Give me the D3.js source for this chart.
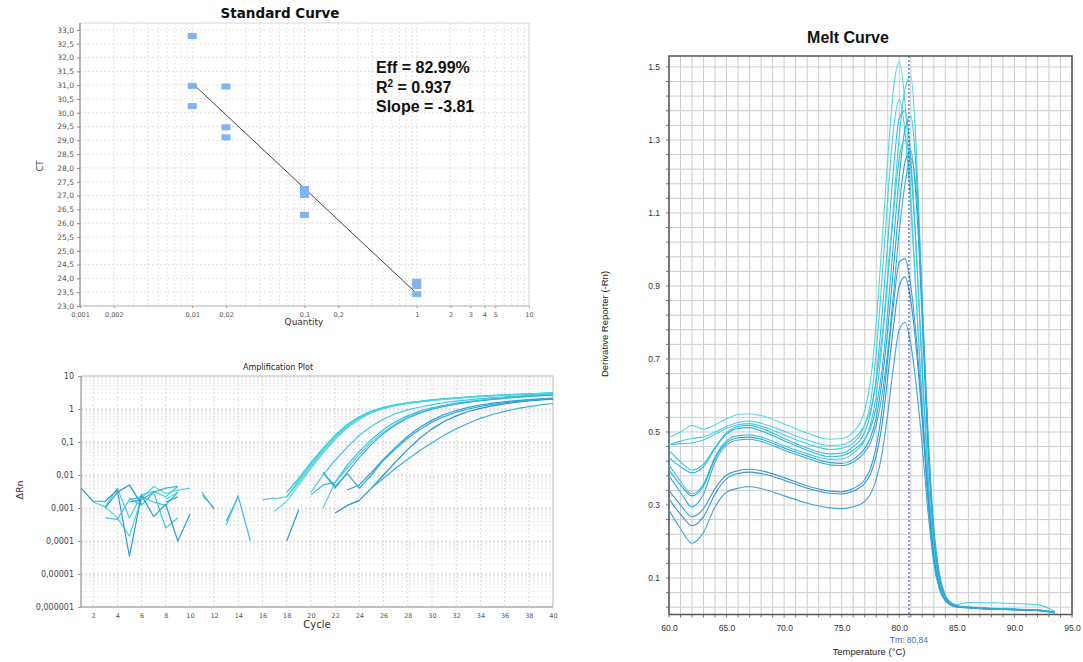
<!DOCTYPE html>
<html>
<head>
<meta charset="utf-8">
<script src="https://cdnjs.cloudflare.com/ajax/libs/d3/7.8.5/d3.min.js"></script>
<style>
  body { margin: 0; background: #fff; }
  svg { display: block; }
</style>
</head>
<body>
<svg id="fig" width="1083" height="662"></svg>
<script>
// ---------------- Standard curve data ----------------
const stdQuantity = [0.01, 0.01, 0.01, 0.02, 0.02, 0.02, 0.1, 0.1, 0.1, 1, 1, 1];
const stdCt       = [32.78, 30.97, 30.24, 30.95, 29.47, 29.11, 27.24, 27.02, 26.30, 23.88, 23.72, 23.43];
const stdSlope = -3.81;
const stdIntercept = 23.45;
const stdFitRange = [0.01, 1];
const stdXTicks = [0.001, 0.002, 0.01, 0.02, 0.1, 0.2, 1, 2, 3, 4, 5, 10];
const stdXLabels = ["0,001", "0,002", "0,01", "0,02", "0,1", "0,2", "1", "2", "3", "4", "5", "10"];
const stdYTicks = [23, 23.5, 24, 24.5, 25, 25.5, 26, 26.5, 27, 27.5, 28, 28.5, 29, 29.5, 30, 30.5, 31, 31.5, 32, 32.5, 33];
const stdEff = "82.99%";
const stdR2 = "0.937";

// ---------------- Amplification plot data (ΔRn per cycle, null = below zero) ----------------
const ampCycles = d3.range(1, 41);
const ampSeries = [
  { color: "#3fd2d8", values: [null,1.5e-3,1.1e-3,4e-3,5e-4,2.5e-3,3.2e-3,2.2e-3,4.5e-3,null,null,null,null,null,null,null,null,2.2e-3,7e-3,0.021,0.058,0.15,0.32,0.56,0.84,1.1,1.33,1.53,1.71,1.87,2.02,2.17,2.31,2.44,2.56,2.67,2.78,2.88,2.97,3.06] },
  { color: "#48d8de", values: [null,null,1.1e-3,5e-4,1.4e-4,2e-3,4.5e-3,2.8e-3,3.5e-3,4e-3,null,null,null,null,null,null,1.9e-3,2.2e-3,6e-3,0.018,0.05,0.13,0.29,0.52,0.8,1.06,1.29,1.49,1.67,1.83,1.98,2.13,2.27,2.4,2.52,2.63,2.74,2.84,2.93,3.02] },
  { color: "#34c9d6", values: [null,null,null,null,2e-3,1.2e-3,3e-3,2.5e-4,5e-4,null,2.5e-3,1e-3,null,null,null,null,null,3e-3,8e-3,0.024,0.064,0.16,0.34,0.58,0.86,1.12,1.35,1.55,1.72,1.88,2.03,2.18,2.32,2.45,2.57,2.68,2.79,2.89,2.98,3.07] },
  { color: "#52dbe2", values: [null,null,null,null,null,null,null,1.8e-3,3e-3,null,null,1.2e-3,null,null,null,null,8e-4,1.6e-3,5e-3,0.016,0.046,0.12,0.27,0.49,0.77,1.03,1.26,1.46,1.64,1.8,1.96,2.11,2.25,2.38,2.5,2.62,2.73,2.83,2.92,3.01] },
  { color: "#45c6e2", values: [null,null,5e-4,4.5e-4,1.8e-3,2.2e-3,1.5e-3,1.2e-3,3e-3,null,null,null,3e-4,2.5e-3,null,null,null,null,null,3e-3,0.01,0.028,0.07,0.16,0.3,0.5,0.72,0.94,1.15,1.36,1.55,1.73,1.9,2.06,2.21,2.35,2.48,2.6,2.71,2.81] },
  { color: "#3abbe0", values: [null,null,null,null,null,null,null,null,null,null,null,null,4e-4,2.2e-3,1e-4,null,null,null,null,2.5e-3,5e-3,6e-3,0.02,0.052,0.12,0.24,0.42,0.63,0.86,1.08,1.3,1.5,1.68,1.86,2.02,2.18,2.32,2.46,2.58,2.7] },
  { color: "#4fc9e6", values: [null,null,null,null,null,null,null,null,null,null,null,null,null,null,null,1.8e-3,2e-3,null,null,null,1e-3,6e-3,0.016,0.042,0.1,0.2,0.36,0.56,0.78,1.0,1.22,1.42,1.61,1.79,1.96,2.12,2.27,2.41,2.54,2.66] },
  { color: "#38b4de", values: [null,2e-3,null,null,1.5e-3,1.8e-3,3e-3,4e-3,4.5e-3,null,null,null,null,null,null,null,null,null,null,null,0.012,4e-3,0.012,0.034,0.085,0.18,0.33,0.53,0.75,0.98,1.2,1.41,1.6,1.78,1.95,2.11,2.26,2.4,2.53,2.65] },
  { color: "#2a9fd6", values: [4e-3,1.6e-3,1.6e-3,3.5e-3,3.5e-5,2.5e-3,5.5e-4,1.3e-3,1e-4,6.5e-4,null,null,null,3.5e-3,null,null,null,1e-4,9e-4,null,null,null,3.5e-3,5e-3,0.012,0.03,0.07,0.15,0.28,0.46,0.68,0.9,1.12,1.32,1.5,1.66,1.8,1.93,2.04,2.14] },
  { color: "#2391d0", values: [null,null,1e-3,3e-3,5e-3,1.3e-3,null,1.5e-3,2.2e-3,null,null,null,null,null,null,null,null,null,null,null,null,7e-4,1.2e-3,1.7e-3,4e-3,0.01,0.025,0.06,0.13,0.25,0.42,0.62,0.84,1.05,1.25,1.43,1.6,1.75,1.88,2.0] },
  { color: "#31a9dc", values: [null,null,null,null,null,null,null,null,null,null,null,null,null,null,null,null,null,null,null,null,0.012,4.5e-3,0.011,4e-3,0.01,0.028,0.062,0.13,0.24,0.4,0.59,0.8,1.0,1.2,1.38,1.55,1.7,1.83,1.95,2.06] },
  { color: "#3eb0dc", values: [null,null,null,null,null,null,null,null,null,null,3e-3,9e-4,null,null,null,2e-3,null,null,null,null,null,null,null,null,4e-3,8e-3,0.016,0.03,0.055,0.095,0.16,0.25,0.37,0.52,0.68,0.85,1.02,1.18,1.33,1.47] }
];
const ampYTicks = [1e-6, 1e-5, 1e-4, 1e-3, 1e-2, 1e-1, 1, 10];
const ampYLabels = ["0,000001", "0,00001", "0,0001", "0,001", "0,01", "0,1", "1", "10"];
const ampXTicks = d3.range(2, 41, 2);

// ---------------- Melt curve data (derivative reporter vs temperature) ----------------
const meltTemps = [60, 61, 62, 63, 64, 65, 66, 67, 68, 70, 72, 74,
                   75, 76, 77, 77.5, 78, 78.5, 79, 79.5, 80, 80.5, 81, 81.5,
                   82, 82.5, 83, 83.5, 84, 84.5, 85, 86, 88, 90, 92, 93.5];
const meltSeries = [
  { color: "#55d8e2", values: [0.485,0.500,0.518,0.508,0.520,0.536,0.548,0.550,0.545,0.522,0.497,0.480,
                               0.482,0.500,0.560,0.640,0.800,1.020,1.250,1.440,1.515,1.400,1.150,0.850,
                               0.560,0.310,0.150,0.070,0.040,0.028,0.022,0.020,0.016,0.014,0.012,0.005] },
  { color: "#45d2e0", values: [0.465,0.475,0.482,0.487,0.500,0.515,0.526,0.530,0.524,0.502,0.478,0.463,
                               0.465,0.480,0.520,0.560,0.640,0.760,0.930,1.120,1.310,1.440,1.475,1.260,
                               0.850,0.470,0.210,0.090,0.045,0.032,0.027,0.033,0.032,0.030,0.027,0.008] },
  { color: "#4cccE4", values: [0.465,0.468,0.470,0.478,0.494,0.510,0.520,0.523,0.516,0.492,0.468,0.452,
                               0.455,0.470,0.520,0.580,0.720,0.920,1.140,1.330,1.410,1.320,1.120,0.850,
                               0.580,0.320,0.160,0.075,0.040,0.026,0.021,0.019,0.016,0.014,0.011,0.005] },
  { color: "#36c0e0", values: [0.450,0.418,0.396,0.412,0.458,0.498,0.515,0.518,0.510,0.482,0.456,0.440,
                               0.442,0.460,0.500,0.550,0.650,0.820,1.020,1.220,1.360,1.380,1.250,0.980,
                               0.660,0.370,0.170,0.080,0.042,0.027,0.021,0.019,0.015,0.013,0.011,0.005] },
  { color: "#2fb6dc", values: [0.430,0.405,0.388,0.405,0.455,0.494,0.510,0.512,0.503,0.476,0.450,0.432,
                               0.435,0.450,0.480,0.510,0.570,0.670,0.830,1.020,1.200,1.330,1.365,1.200,
                               0.840,0.470,0.220,0.100,0.050,0.030,0.023,0.020,0.016,0.014,0.012,0.006] },
  { color: "#3cc6e4", values: [0.410,0.365,0.330,0.358,0.432,0.476,0.490,0.492,0.486,0.462,0.440,0.425,
                               0.426,0.442,0.478,0.520,0.600,0.740,0.920,1.100,1.250,1.300,1.220,0.980,
                               0.680,0.380,0.180,0.085,0.044,0.028,0.022,0.019,0.015,0.013,0.011,0.005] },
  { color: "#27a6d8", values: [0.396,0.355,0.325,0.352,0.428,0.470,0.484,0.486,0.480,0.456,0.434,0.416,
                               0.414,0.425,0.455,0.485,0.540,0.640,0.780,0.950,1.120,1.240,1.270,1.120,
                               0.800,0.450,0.210,0.095,0.048,0.030,0.023,0.020,0.016,0.014,0.012,0.006] },
  { color: "#30b0de", values: [0.380,0.335,0.295,0.330,0.418,0.464,0.478,0.480,0.474,0.450,0.428,0.410,
                               0.408,0.418,0.445,0.470,0.520,0.600,0.720,0.880,1.050,1.180,1.250,1.150,
                               0.850,0.500,0.240,0.110,0.052,0.032,0.024,0.021,0.017,0.015,0.012,0.006] },
  { color: "#3a9cd6", values: [0.340,0.300,0.268,0.290,0.345,0.382,0.394,0.398,0.394,0.375,0.352,0.338,
                               0.336,0.345,0.370,0.400,0.460,0.560,0.700,0.850,0.965,0.975,0.900,0.750,
                               0.550,0.330,0.160,0.075,0.040,0.026,0.021,0.019,0.015,0.013,0.011,0.005] },
  { color: "#3596d2", values: [0.316,0.275,0.243,0.268,0.330,0.372,0.386,0.390,0.386,0.368,0.346,0.332,
                               0.330,0.338,0.360,0.385,0.435,0.520,0.650,0.790,0.900,0.925,0.860,0.720,
                               0.530,0.320,0.155,0.072,0.039,0.026,0.021,0.018,0.015,0.013,0.011,0.005] },
  { color: "#3fa2d8", values: [0.286,0.235,0.195,0.225,0.295,0.335,0.346,0.350,0.345,0.325,0.305,0.292,
                               0.290,0.295,0.310,0.330,0.370,0.440,0.550,0.680,0.780,0.800,0.740,0.620,
                               0.460,0.280,0.140,0.068,0.037,0.025,0.020,0.018,0.015,0.013,0.011,0.005] }
];
const meltTm = 80.84;
const meltXTicks = [60, 65, 70, 75, 80, 85, 90, 95];
const meltYTicks = [0.1, 0.3, 0.5, 0.7, 0.9, 1.1, 1.3, 1.5];

const fig = d3.select("#fig");
const SANS = "'DejaVu Sans', Verdana, sans-serif";
const ARIAL = "'Liberation Sans', Arial, sans-serif";

function styleAxis(g, color, fontSize, family, textColor) {
  g.selectAll(".domain").remove();
  g.selectAll(".tick line").attr("stroke", color);
  g.selectAll(".tick text").attr("font-size", fontSize).attr("font-family", family).attr("fill", textColor);
}

// =============== Standard Curve ===============
{
  const L = 80, R = 529, T = 23, B = 306;
  const x = d3.scaleLog().domain([0.001, 10]).range([L, R]);
  const y = d3.scaleLinear().domain([23, 33.25]).range([B, T]);
  const g = fig.append("g");

  // grid
  g.append("g").selectAll("line").data(x.ticks()).join("line")
    .attr("x1", d => x(d)).attr("x2", d => x(d)).attr("y1", T).attr("y2", B)
    .attr("stroke", "#dcdcdc").attr("stroke-dasharray", "2,2").attr("stroke-width", 0.8);
  g.append("g").selectAll("line").data(stdYTicks).join("line")
    .attr("x1", L).attr("x2", R).attr("y1", d => y(d)).attr("y2", d => y(d))
    .attr("stroke", "#dcdcdc").attr("stroke-dasharray", "2,2").attr("stroke-width", 0.8);

  // frame
  g.append("path").attr("d", `M${L},${T}H${R}V${B}`).attr("fill", "none").attr("stroke", "#d8d8d8").attr("stroke-width", 1);
  g.append("line").attr("x1", L).attr("x2", L).attr("y1", T).attr("y2", B).attr("stroke", "#8a8a8a").attr("stroke-width", 1.2);
  g.append("line").attr("x1", L).attr("x2", R).attr("y1", B).attr("y2", B).attr("stroke", "#b5b5b5").attr("stroke-width", 1.2);

  // axes
  const ya = g.append("g").attr("transform", `translate(${L},0)`)
    .call(d3.axisLeft(y).tickValues(stdYTicks).tickSize(3).tickPadding(3)
      .tickFormat(d => d.toFixed(1).replace(".", ",")));
  styleAxis(ya, "#888", 7.5, SANS, "#555");
  const xa = g.append("g").attr("transform", `translate(0,${B})`)
    .call(d3.axisBottom(x).tickValues(stdXTicks).tickSize(2).tickPadding(4)
      .tickFormat((d, i) => stdXLabels[i]));
  styleAxis(xa, "#999", 6.5, SANS, "#555");

  // regression line
  g.append("line")
    .attr("x1", x(stdFitRange[0])).attr("y1", y(stdIntercept + stdSlope * Math.log10(stdFitRange[0])))
    .attr("x2", x(stdFitRange[1])).attr("y2", y(stdIntercept + stdSlope * Math.log10(stdFitRange[1])))
    .attr("stroke", "#444").attr("stroke-width", 1);

  // points
  g.append("g").selectAll("rect").data(stdQuantity).join("rect")
    .attr("x", d => x(d) - 4.5).attr("y", (d, i) => y(stdCt[i]) - 3)
    .attr("width", 9).attr("height", 6).attr("fill", "#80b4ee");

  // titles
  g.append("text").attr("x", 280).attr("y", 18).attr("text-anchor", "middle")
    .attr("font-family", SANS).attr("font-weight", "bold").attr("font-size", 13.5).attr("fill", "#111")
    .text("Standard Curve");
  g.append("text").attr("transform", "translate(43,166) rotate(-90)").attr("text-anchor", "middle")
    .attr("font-family", SANS).attr("font-size", 8.5).attr("fill", "#444").text("CT");
  g.append("text").attr("x", 304).attr("y", 325).attr("text-anchor", "middle")
    .attr("font-family", SANS).attr("font-size", 9).attr("fill", "#333").text("Quantity");

  // stats
  const st = g.append("g").attr("font-family", ARIAL).attr("font-weight", "bold").attr("font-size", 16).attr("fill", "#111");
  st.append("text").attr("x", 376).attr("y", 73).text("Eff = " + stdEff);
  const r2 = st.append("text").attr("x", 376).attr("y", 93);
  r2.append("tspan").text("R");
  r2.append("tspan").attr("font-size", 10).attr("dy", -6).text("2");
  r2.append("tspan").attr("dy", 6).text(" = " + stdR2);
  st.append("text").attr("x", 376).attr("y", 112).text("Slope = " + stdSlope.toFixed(2));
}

// =============== Amplification Plot ===============
{
  const L = 81, R = 553, T = 376, B = 607;
  const x = d3.scaleLinear().domain([1, 40]).range([L, R]);
  const y = d3.scaleLog().domain([1e-6, 10]).range([B, T]);
  const g = fig.append("g");

  // grid
  g.append("g").selectAll("line").data(y.ticks()).join("line")
    .attr("x1", L).attr("x2", R).attr("y1", d => y(d)).attr("y2", d => y(d))
    .attr("stroke", "#e0e0e0").attr("stroke-dasharray", "2,2").attr("stroke-width", 0.8);
  g.append("g").selectAll("line").data(ampXTicks).join("line")
    .attr("x1", d => x(d)).attr("x2", d => x(d)).attr("y1", T).attr("y2", B)
    .attr("stroke", "#d6d6d6").attr("stroke-dasharray", "2,2").attr("stroke-width", 0.8);
  g.append("g").selectAll("line").data(ampYTicks).join("line")
    .attr("x1", L).attr("x2", R).attr("y1", d => y(d)).attr("y2", d => y(d))
    .attr("stroke", "#d0d0d0").attr("stroke-dasharray", "2,2").attr("stroke-width", 0.8);

  // frame
  g.append("path").attr("d", `M${L},${T}H${R}V${B}`).attr("fill", "none").attr("stroke", "#d4d4d4").attr("stroke-width", 1.5);
  g.append("line").attr("x1", L).attr("x2", L).attr("y1", T).attr("y2", B).attr("stroke", "#a8a8a8").attr("stroke-width", 1.5);
  g.append("line").attr("x1", L).attr("x2", R).attr("y1", B).attr("y2", B).attr("stroke", "#b0b0b0").attr("stroke-width", 1.5);

  const ya = g.append("g").attr("transform", `translate(${L},0)`)
    .call(d3.axisLeft(y).tickValues(ampYTicks).tickSize(3).tickPadding(4).tickFormat((d, i) => ampYLabels[i]));
  styleAxis(ya, "#999", 8, SANS, "#444");
  const xa = g.append("g").attr("transform", `translate(0,${B})`)
    .call(d3.axisBottom(x).tickValues(ampXTicks).tickSize(0).tickPadding(6));
  styleAxis(xa, "#999", 6.5, SANS, "#555");

  // curves
  const line = d3.line().defined(d => d != null).x((d, i) => x(ampCycles[i])).y(d => y(d));
  g.append("g").selectAll("path").data(ampSeries).join("path")
    .attr("d", s => line(s.values)).attr("fill", "none")
    .attr("stroke", s => s.color).attr("stroke-width", 1.2).attr("stroke-linejoin", "round");

  g.append("text").attr("x", 278).attr("y", 370).attr("text-anchor", "middle")
    .attr("font-family", SANS).attr("font-size", 8).attr("fill", "#222").text("Amplification Plot");
  g.append("text").attr("transform", "translate(23,490) rotate(-90)").attr("text-anchor", "middle")
    .attr("font-family", SANS).attr("font-size", 9.5).attr("fill", "#333").text("ΔRn");
  g.append("text").attr("x", 317).attr("y", 628).attr("text-anchor", "middle")
    .attr("font-family", SANS).attr("font-size", 10).attr("fill", "#333").text("Cycle");
}

// =============== Melt Curve ===============
{
  const L = 669, R = 1072, T = 56, B = 614.5;
  const x = d3.scaleLinear().domain([60, 95]).range([L, R]);
  const y = d3.scaleLinear().domain([0, 1.53]).range([B, T]);
  const g = fig.append("g");

  const vGrid = d3.range(60, 95.01, 1);
  const hGrid = d3.range(0.02, 1.51, 0.04);

  g.append("g").selectAll("line").data(vGrid).join("line")
    .attr("x1", d => x(d)).attr("x2", d => x(d)).attr("y1", T).attr("y2", B)
    .attr("stroke", "#cdcdcd").attr("stroke-width", 1);
  g.append("g").selectAll("line").data(hGrid).join("line")
    .attr("x1", L).attr("x2", R).attr("y1", d => y(d)).attr("y2", d => y(d))
    .attr("stroke", "#cdcdcd").attr("stroke-width", 1);

  // small ticks outside the frame
  g.append("g").selectAll("line").data(hGrid).join("line")
    .attr("x1", L - 3).attr("x2", L).attr("y1", d => y(d)).attr("y2", d => y(d))
    .attr("stroke", "#777").attr("stroke-width", 1);
  g.append("g").selectAll("line").data(vGrid).join("line")
    .attr("x1", d => x(d)).attr("x2", d => x(d)).attr("y1", B).attr("y2", B + 3)
    .attr("stroke", "#777").attr("stroke-width", 1);

  g.append("rect").attr("x", L).attr("y", T).attr("width", R - L).attr("height", B - T)
    .attr("fill", "none").attr("stroke", "#555").attr("stroke-width", 1.5);

  const ya = g.append("g").attr("transform", `translate(${L - 3},0)`)
    .call(d3.axisLeft(y).tickValues(meltYTicks).tickSize(0).tickPadding(6).tickFormat(d3.format(".1f")));
  styleAxis(ya, "#555", 8.5, ARIAL, "#333");
  const xa = g.append("g").attr("transform", `translate(0,${B + 3})`)
    .call(d3.axisBottom(x).tickValues(meltXTicks).tickSize(0).tickPadding(7).tickFormat(d3.format(".1f")));
  styleAxis(xa, "#555", 8.5, ARIAL, "#333");

  // curves
  const line = d3.line().x((d, i) => x(meltTemps[i])).y(d => y(d)).curve(d3.curveMonotoneX);
  g.append("g").selectAll("path").data(meltSeries).join("path")
    .attr("d", s => line(s.values)).attr("fill", "none")
    .attr("stroke", s => s.color).attr("stroke-width", 1.1);

  // Tm marker
  g.append("line").attr("x1", x(meltTm)).attr("x2", x(meltTm)).attr("y1", T).attr("y2", B + 3)
    .attr("stroke", "#2848b0").attr("stroke-width", 1).attr("stroke-dasharray", "2,2");
  g.append("text").attr("x", x(meltTm)).attr("y", 643).attr("text-anchor", "middle")
    .attr("font-family", ARIAL).attr("font-size", 8.5).attr("fill", "#3b6fb5")
    .text("Tm: " + meltTm.toFixed(2).replace(".", ","));

  g.append("text").attr("x", 848).attr("y", 43).attr("text-anchor", "middle")
    .attr("font-family", ARIAL).attr("font-weight", "bold").attr("font-size", 16).attr("fill", "#111").text("Melt Curve");
  g.append("text").attr("transform", "translate(608,324) rotate(-90)").attr("text-anchor", "middle")
    .attr("font-family", ARIAL).attr("font-size", 9.5).attr("fill", "#222").text("Derivative Reporter (-Rn)");
  g.append("text").attr("x", 869).attr("y", 655).attr("text-anchor", "middle")
    .attr("font-family", ARIAL).attr("font-size", 9.5).attr("fill", "#222").text("Temperature (°C)");
}
</script>
</body>
</html>
